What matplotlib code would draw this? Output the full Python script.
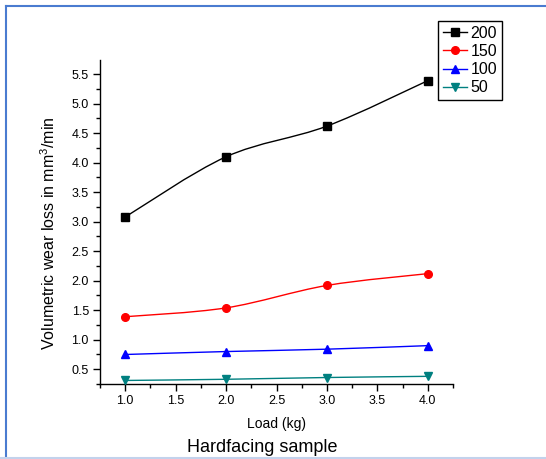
import numpy as np
from matplotlib import pyplot as plt
from matplotlib.lines import Line2D
from matplotlib.path import Path
from matplotlib.patches import PathPatch
from matplotlib.ticker import MultipleLocator

# =========================
# Data
# =========================
LOAD_KG = [1.0, 2.0, 3.0, 4.0]
SERIES_NAMES = ["200", "150", "100", "50"]
WEAR_200 = [3.08, 4.10, 4.62, 5.39]
WEAR_150 = [1.39, 1.54, 1.92, 2.12]
WEAR_100 = [0.75, 0.80, 0.84, 0.90]
WEAR_50 = [0.31, 0.33, 0.36, 0.38]

COLORS = ["black", "#ff0000", "#0000ff", "#008080"]
MARKERS = ["s", "o", "^", "v"]

plt.rcParams.update({
    "font.family": ["Liberation Sans", "DejaVu Sans"],
    "mathtext.default": "regular",
})


def smooth_path(x, y):
    # Catmull-Rom style bezier through the points (Origin's smoothed line look)
    pts = np.column_stack([x, y]).astype(float)
    ext = np.vstack([pts[0], pts, pts[-1]])
    verts = [pts[0]]
    codes = [Path.MOVETO]
    for i in range(len(pts) - 1):
        p0, p1, p2, p3 = ext[i], ext[i + 1], ext[i + 2], ext[i + 3]
        verts += [p1 + (p2 - p0) / 6.0, p2 - (p3 - p1) / 6.0, p2]
        codes += [Path.CURVE4] * 3
    return Path(verts, codes)


def main():
    fig = plt.figure(figsize=(5.46, 4.59), dpi=100)
    ax = fig.add_axes([100 / 546, 75 / 459, 353 / 546, 324 / 459])

    all_series = [WEAR_200, WEAR_150, WEAR_100, WEAR_50]
    handles = []
    for vals, name, col, mk in zip(all_series, SERIES_NAMES, COLORS, MARKERS):
        ax.add_patch(PathPatch(smooth_path(LOAD_KG, vals), facecolor="none",
                               edgecolor=col, lw=1.0, zorder=2))
        ax.plot(LOAD_KG, vals, linestyle="None", marker=mk, color=col,
                markersize=5.5, zorder=3, clip_on=False)
        handles.append(Line2D([], [], color=col, marker=mk, markersize=5.5, lw=1.0, label=name))

    ax.set_xlim(0.75, 4.25)
    ax.set_ylim(0.25, 5.74)
    ax.xaxis.set_major_locator(MultipleLocator(0.5))
    ax.xaxis.set_minor_locator(MultipleLocator(0.25))
    ax.yaxis.set_major_locator(MultipleLocator(0.5))
    ax.yaxis.set_minor_locator(MultipleLocator(0.25))
    ax.xaxis.set_major_formatter(lambda v, p: f"{v:.1f}")
    ax.yaxis.set_major_formatter(lambda v, p: f"{v:.1f}")

    for side in ["top", "right"]:
        ax.spines[side].set_visible(False)
    for side in ["left", "bottom"]:
        ax.spines[side].set_linewidth(1.0)
    ax.tick_params(which="major", direction="out", length=5, width=1.0, labelsize=9, pad=3)
    ax.tick_params(which="minor", direction="out", length=3, width=1.0)

    ax.set_xlabel("Load (kg)", fontsize=10, labelpad=7)
    ax.set_ylabel("Volumetric wear loss in mm$^3$/min", fontsize=11.5)
    ax.yaxis.set_label_coords(-0.119, 0.466)

    leg = fig.legend(handles=handles, loc="upper right",
                     bbox_to_anchor=(502 / 546, 1 - 21 / 459), borderaxespad=0,
                     fontsize=11.5, handlelength=1.5, handletextpad=0.25,
                     labelspacing=0.2, borderpad=0.3, fancybox=False, framealpha=1)
    leg.get_frame().set_edgecolor("black")
    leg.get_frame().set_linewidth(1.0)

    fig.text(262 / 546, 1 - 447 / 459, "Hardfacing sample", fontsize=13,
             ha="center", va="center")

    # thin blue frame of the screenshot
    fig.add_artist(Line2D([6 / 546, 1.0], [1 - 6 / 459] * 2, color="#4a7bd0", lw=1.5,
                          transform=fig.transFigure))
    fig.add_artist(Line2D([6 / 546] * 2, [0, 1 - 6 / 459], color="#4a7bd0", lw=1.5,
                          transform=fig.transFigure))
    fig.add_artist(Line2D([0, 1.0], [1 / 459] * 2, color="#c3d2ec", lw=1.5,
                          transform=fig.transFigure))

    fig.savefig("out.png", dpi=100)
    plt.close(fig)


if __name__ == "__main__":
    main()
